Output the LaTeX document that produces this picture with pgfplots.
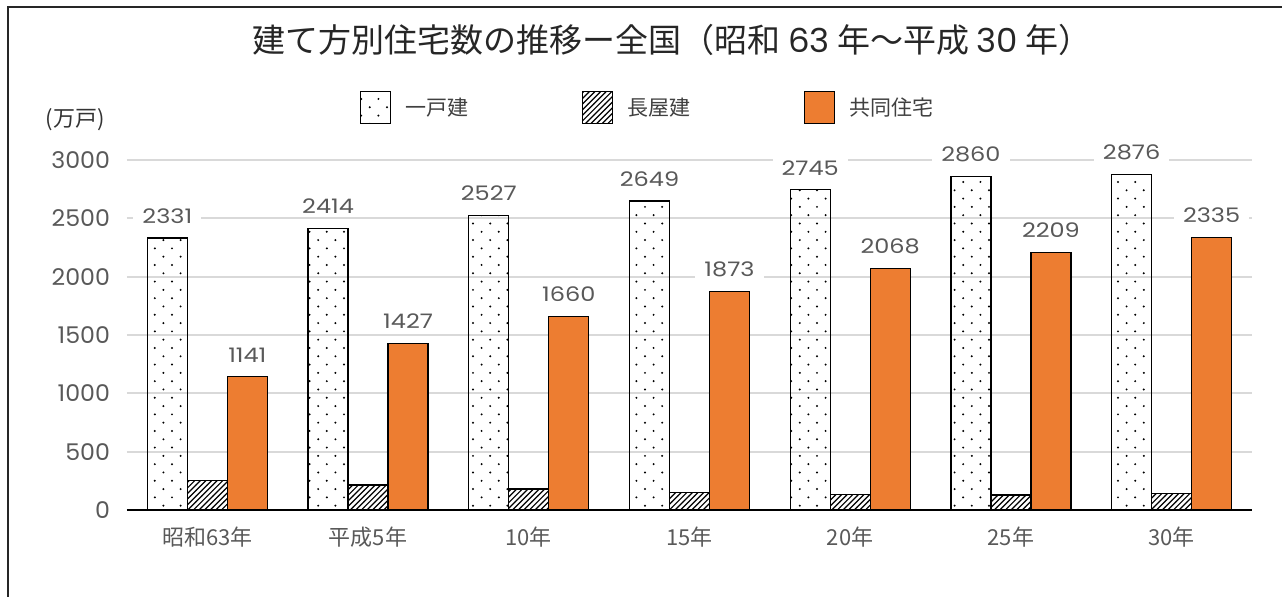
\documentclass[border=0pt]{standalone}
\usepackage{fontspec}
\setmainfont{Noto Sans CJK JP}
\newfontfamily\numfont{Poppins}[Numbers=Monospaced, FakeStretch=1.03]
\newfontfamily\lblfont{Poppins}[Numbers=Monospaced, FakeStretch=1.2]
\usepackage{pgfplots}
\pgfplotsset{compat=1.18}
\usetikzlibrary{patterns}
\definecolor{barorange}{HTML}{ED7D31}
\definecolor{txtgray}{HTML}{595959}
\definecolor{gridgray}{HTML}{D9D9D9}

\pgfdeclarepatternformonly{sparsedots}{\pgfqpoint{-1pt}{-1pt}}{\pgfqpoint{9.6pt}{9.3pt}}{\pgfqpoint{8.6pt}{8.3pt}}{%
 \pgfpathcircle{\pgfqpoint{0pt}{0pt}}{0.55pt}%
 \pgfpathcircle{\pgfqpoint{4.3pt}{4.15pt}}{0.55pt}%
 \pgfusepath{fill}}
\pgfdeclarepatternformonly{hatch}{\pgfqpoint{-1pt}{-1pt}}{\pgfqpoint{3.8pt}{3.8pt}}{\pgfqpoint{2.8pt}{2.8pt}}{%
 \pgfsetlinewidth{0.6pt}%
 \pgfpathmoveto{\pgfqpoint{0pt}{0pt}}\pgfpathlineto{\pgfqpoint{2.9pt}{2.9pt}}\pgfusepath{stroke}}

\pgfplotstableread{
x ikko nagaya kyodo
0 2331 250 1141
1 2414 215 1427
2 2527 180 1660
3 2649 147 1873
4 2745 133 2068
5 2860 129 2209
6 2876 141 2335
}\datatable

\begin{document}
\begin{tikzpicture}[x=1pt,y=1pt]
\useasboundingbox (0,0) rectangle (641,298.5);
\draw[line width=1pt, color=black!85] (4,-1) -- (4,295) -- (642,295);
\begin{axis}[
 at={(63.5pt,43.5pt)}, anchor=south west, scale only axis,
 width=562.5pt, height=175pt,
 ymin=0, ymax=3000, xmin=-0.5, xmax=6.5,
 clip=false,
 ybar=0pt, bar width=20pt,
 xtick=data, xticklabels={昭和63年,平成5年,10年,15年,20年,25年,30年},
 ytick={0,500,1000,1500,2000,2500,3000},
 yticklabels={0,500,1000,1500,2000,2500,3000},
 axis x line*=bottom, axis y line*=left,
 axis line style={-},
 y axis line style={draw=none},
 x axis line style={line width=1pt, black},
 major tick length=0pt,
 ymajorgrids, grid style={gridgray, line width=1pt},
 yticklabel style={font=\numfont\fontsize{11.5}{12}\selectfont, text=txtgray, xshift=-5pt},
 xticklabel style={font=\fontsize{11}{12}\selectfont, text=txtgray, yshift=-5pt},
 /pgf/number format/assume math mode=true,
 /pgf/number format/1000 sep={},
 title={建て方別住宅数の推移ー全国（昭和 {\numfont 63} 年～平成 {\numfont 30} 年）},
 title style={at={(axis description cs:0.4844,1.3086)}, anchor=center, font=\fontsize{16.5}{18}\selectfont, text=black!85},
 legend columns=3,
 legend style={at={(axis description cs:0.207,1.149)}, anchor=west, draw=none, inner sep=0pt,
   font=\fontsize{10.5}{12}\selectfont, text=black!75,
   /tikz/every even column/.append style={column sep=55pt},
   /tikz/every odd column/.append style={column sep=5pt}},
 legend image code/.code={\draw[#1, line width=0.5pt] (0pt,-8pt) rectangle (15pt,8pt);},
 every node near coord/.append style={font=\lblfont\fontsize{10}{12}\selectfont, text=txtgray, fill=white, inner xsep=4.5pt, inner ysep=1pt, anchor=south, yshift=6pt},
]
\addplot[draw=black, line width=0.6pt, pattern=sparsedots, pattern color=black, nodes near coords] table[x=x, y=ikko] {\datatable};
\addlegendentry{一戸建}
\addplot[draw=black, line width=0.6pt, pattern=hatch, pattern color=black] table[x=x, y=nagaya] {\datatable};
\addlegendentry{長屋建}
\addplot[draw=black, line width=0.6pt, fill=barorange, nodes near coords] table[x=x, y=kyodo] {\datatable};
\addlegendentry{共同住宅}
\node[font=\fontsize{11}{12}\selectfont, text=black!80] at (axis description cs:-0.0462,1.114) {(万戸)};
\end{axis}
\end{tikzpicture}
\end{document}
